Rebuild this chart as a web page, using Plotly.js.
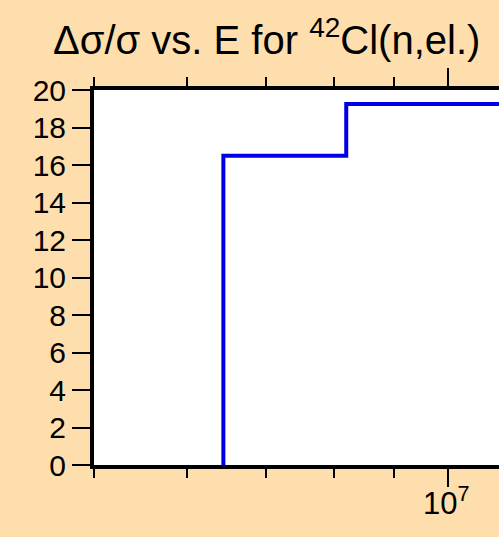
<!DOCTYPE html>
<html>
<head>
<meta charset="utf-8">
<script src="https://cdn.plot.ly/plotly-3.0.1.min.js"></script>
<style>
html,body{margin:0;padding:0;overflow:hidden;background:#FFDEAD;width:499px;height:537px;}
#chart{width:600px;height:537px;}
</style>
</head>
<body>
<div id="chart"></div>
<script>
// Bin edges (energy, eV) and relative uncertainty values (%)
const binEdges = [6.44e6, 8.19e6, 2.0e7];
const binValues = [16.5, 19.25];
const yTickVals = [0, 2, 4, 6, 8, 10, 12, 14, 16, 18, 20];
const xMajorTicks = [1e7];
const xMajorLabels = ['10<sup>7</sup>'];
const xMinorTicks = [5e6, 6e6, 7e6, 8e6, 9e6];

// Build step line from bins
const xs = [binEdges[0]];
const ys = [0];
for (let i = 0; i < binValues.length; i++) {
  xs.push(binEdges[i]); ys.push(binValues[i]);
}
xs.push(binEdges[binEdges.length - 1]); ys.push(binValues[binValues.length - 1]);

const trace = {
  x: xs, y: ys, type: 'scatter', mode: 'lines',
  line: {shape: 'hv', color: '#0000E6', width: 4},
  hoverinfo: 'skip'
};

const font = {family: 'Liberation Sans, Arial, sans-serif', color: '#000'};

// Major tick labels drawn as annotations placed on the x axis scale
const tickAnnotations = xMajorTicks.map((v, i) => ({
  x: Math.log10(v), xref: 'x', xanchor: 'center', xshift: -2,
  y: -0.155, yref: 'paper', yanchor: 'bottom',
  text: xMajorLabels[i], showarrow: false,
  font: Object.assign({size: 31}, font)
}));

const layout = {
  width: 600, height: 537,
  paper_bgcolor: '#FFDEAD',
  plot_bgcolor: '#FFFFFF',
  showlegend: false,
  margin: {l: 94, r: 34, t: 90, b: 72},
  title: {
    text: 'Δσ/σ vs. E for <sup>42</sup>Cl(n,el.)',
    font: Object.assign({size: 40}, font),
    xref: 'container', x: 53/600, xanchor: 'left',
    yref: 'container', y: 1 - 40/537, yanchor: 'middle'
  },
  annotations: tickAnnotations,
  xaxis: {
    type: 'log',
    range: [Math.log10(5e6), 7.1],
    tickmode: 'array', tickvals: xMajorTicks, ticktext: xMajorTicks.map(() => ''),
    ticks: 'outside', ticklen: 18, tickwidth: 2, tickcolor: '#000',
    minor: {tickmode: 'array', tickvals: xMinorTicks, ticks: 'outside', ticklen: 9, tickwidth: 2, tickcolor: '#000', showgrid: false},
    showline: true, linewidth: 4, linecolor: '#000', mirror: 'allticks',
    showgrid: false, zeroline: false,
    tickfont: Object.assign({size: 31}, font)
  },
  yaxis: {
    range: [0, 20],
    tickmode: 'array', tickvals: yTickVals,
    ticks: 'outside', ticklen: 18, tickwidth: 2, tickcolor: '#000',
    showline: true, linewidth: 4, linecolor: '#000', mirror: true,
    showgrid: false, zeroline: false,
    tickfont: Object.assign({size: 30}, font)
  }
};

Plotly.newPlot('chart', [trace], layout, {staticPlot: true, displayModeBar: false});
</script>
</body>
</html>
